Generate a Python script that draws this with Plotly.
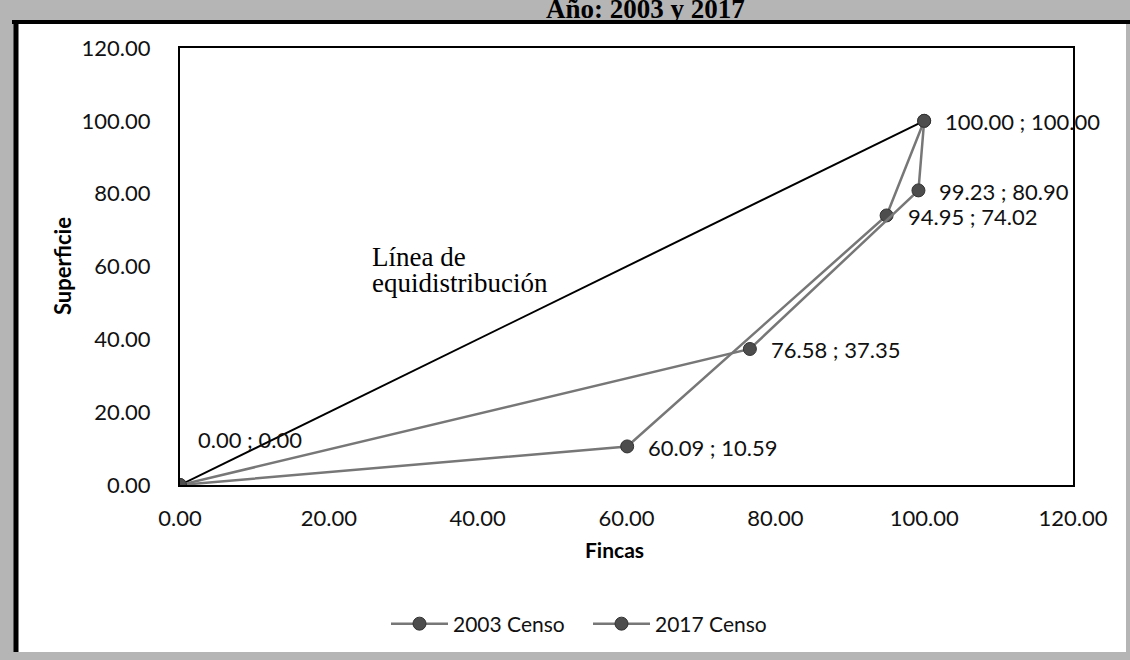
import plotly.graph_objects as go

# ---- data ----
series_names = ["2003 Censo", "2017 Censo"]
fincas_2003 = [0.00, 60.09, 94.95, 100.00]
superficie_2003 = [0.00, 10.59, 74.02, 100.00]
fincas_2017 = [0.00, 76.58, 99.23, 100.00]
superficie_2017 = [0.00, 37.35, 80.90, 100.00]
equi_x = [0.0, 100.0]
equi_y = [0.0, 100.0]
tick_vals = [0, 20, 40, 60, 80, 100, 120]
tick_text = ["0.00", "20.00", "40.00", "60.00", "80.00", "100.00", "120.00"]
title_text = "Año: 2003 y 2017"
x_title = "Fincas"
y_title = "Superficie"
equi_label_lines = ["Línea de", "equidistribución"]

# ---- layout geometry (pixels) ----
W, H = 1130, 660
L, R, T, B = 180, 1073, 48, 485


def px(x):
    return (x - L) / (R - L)


def py(y):
    return (B - y) / (B - T)


LINE_COL = "#777777"
MARK_COL = "#4d4d4d"
SANS = "Lato, Open Sans, sans-serif"
SERIF = "Liberation Serif, Times New Roman, serif"
TICK_FONT = dict(family=SANS, size=22, color="#111111")

fig = go.Figure()
fig.add_trace(go.Scatter(x=equi_x, y=equi_y, mode="lines",
                         line=dict(color="#000000", width=2),
                         showlegend=False, hoverinfo="skip"))
for name, xs, ys in [(series_names[0], fincas_2003, superficie_2003),
                     (series_names[1], fincas_2017, superficie_2017)]:
    fig.add_trace(go.Scatter(x=xs, y=ys, mode="lines+markers", name=name,
                             line=dict(color=LINE_COL, width=2.5),
                             marker=dict(color=MARK_COL, size=13,
                                         line=dict(color="#333333", width=1))))

# data labels built from the arrays
annotations = []
seen = set()
for xs, ys in [(fincas_2003, superficie_2003), (fincas_2017, superficie_2017)]:
    for xv, yv in zip(xs, ys):
        if (xv, yv) in seen:
            continue
        seen.add((xv, yv))
        if xv == 0 and yv == 0:
            xs_, ys_ = 16, 46
        else:
            xs_, ys_ = 19, -1
        annotations.append(dict(x=xv, y=yv, xref="x", yref="y",
                                text=f"{xv:.2f} ; {yv:.2f}", showarrow=False,
                                xanchor="left", yanchor="middle",
                                xshift=xs_, yshift=ys_,
                                font=dict(family=SANS, size=22, color="#111111")))

for line_text, yc in zip(equi_label_lines, [257, 283]):
    annotations.append(dict(x=px(370), y=py(yc), xref="paper", yref="paper",
                            text=line_text, showarrow=False, xanchor="left",
                            yanchor="middle",
                            font=dict(family=SERIF, size=27, color="#000000")))

annotations += [
    dict(x=px(614), y=py(549), xref="paper", yref="paper",
         text=f"<b>{x_title}</b>", showarrow=False, xanchor="center",
         yanchor="middle", font=dict(family=SANS, size=21, color="#000")),
    dict(x=px(62), y=py(266), xref="paper", yref="paper",
         text=f"<b>{y_title}</b>", showarrow=False, textangle=-90,
         xanchor="center", yanchor="middle",
         font=dict(family=SANS, size=22, color="#000")),
    dict(x=px(645), y=py(9), xref="paper", yref="paper",
         text=f"<b>{title_text}</b>", showarrow=False, xanchor="center",
         yanchor="middle", font=dict(family=SERIF, size=27, color="#000")),
]

shapes = [
    dict(type="rect", xref="paper", yref="paper", layer="below",
         x0=px(14), x1=px(1126), y0=py(22), y1=py(652),
         fillcolor="#ffffff", line=dict(width=0)),
    dict(type="line", xref="paper", yref="paper", layer="below",
         x0=px(12), x1=px(1130), y0=py(22), y1=py(22),
         line=dict(color="#000000", width=4)),
    dict(type="line", xref="paper", yref="paper", layer="below",
         x0=px(16), x1=px(16), y0=py(20), y1=py(652),
         line=dict(color="#000000", width=5)),
]

axis_common = dict(range=[0, 120], tickvals=tick_vals, ticktext=tick_text,
                   showgrid=False, zeroline=False, showline=True,
                   linecolor="#000000", linewidth=2, mirror=True,
                   ticks="", tickfont=TICK_FONT)

fig.update_layout(
    width=W, height=H,
    margin=dict(l=L, r=W - R, t=T, b=H - B, autoexpand=False),
    paper_bgcolor="#b5b5b5", plot_bgcolor="#ffffff",
    xaxis=dict(**axis_common, ticklabelstandoff=13),
    yaxis=dict(**axis_common, ticklabelstandoff=23),
    showlegend=True,
    legend=dict(orientation="h", x=px(386), y=py(624), xanchor="left",
                yanchor="middle", bgcolor="rgba(0,0,0,0)",
                itemwidth=57, entrywidth=130, entrywidthmode="pixels",
                font=dict(family=SANS, size=21, color="#111111")),
    annotations=annotations, shapes=shapes,
)

fig.write_html("out.html", config={"displayModeBar": False},
               post_script="document.body.style.margin='0';"
                           "document.body.style.background='#b5b5b5';")
